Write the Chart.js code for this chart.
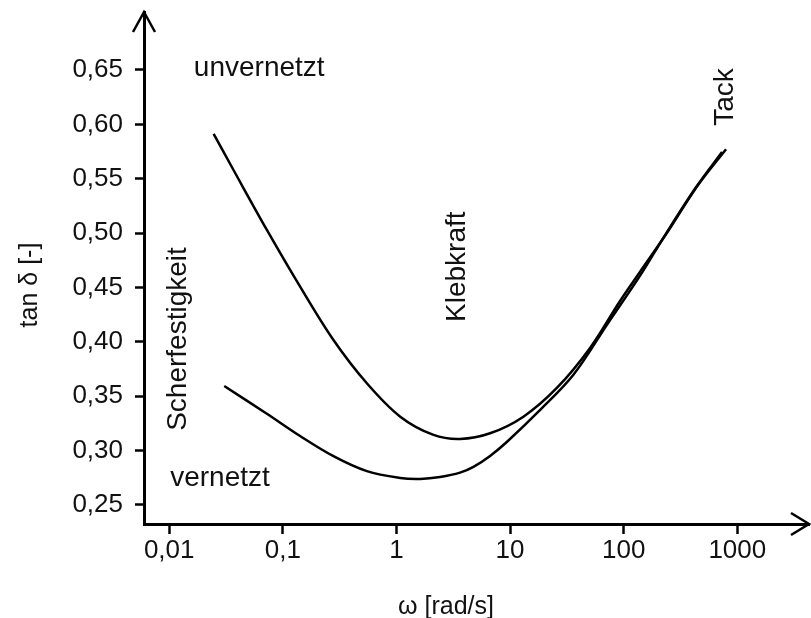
<!DOCTYPE html>
<html>
<head>
<meta charset="utf-8">
<script src="https://cdn.jsdelivr.net/npm/chart.js@4.4.0/dist/chart.umd.min.js"></script>
<style>
    body { margin: 0; background: #fff; }
</style>
</head>
<body>
<canvas id="myChart" width="811" height="618"></canvas>
<script>
// Werte (omega in rad/s, tan delta)
let omegaUnvernetzt = [0.0246, 0.0368, 0.0724, 0.142, 0.279, 0.549, 1.08, 2.12, 3.63, 6.67, 13.1, 25.8, 50.6, 92.9, 139, 239, 439, 796];
let tanUnvernetzt   = [0.5912, 0.558, 0.5029, 0.4507, 0.4017, 0.3619, 0.3312, 0.3144, 0.3107, 0.3159, 0.3312, 0.3576, 0.3944, 0.4376, 0.4643, 0.4998, 0.5424, 0.5771];

let omegaVernetzt = [0.0305, 0.0724, 0.142, 0.279, 0.549, 1.08, 1.62, 2.42, 3.63, 4.76, 6.67, 9.36, 18.4, 36.1, 71.0, 139, 239, 439, 734];
let tanVernetzt   = [0.3594, 0.3339, 0.3134, 0.2949, 0.2811, 0.2748, 0.2739, 0.2757, 0.2797, 0.285, 0.2951, 0.3079, 0.3374, 0.3697, 0.4155, 0.4606, 0.5005, 0.543, 0.5746];

let xTicks = [0.01, 0.1, 1, 10, 100, 1000];
let xTickLabels = ['0,01', '0,1', '1', '10', '100', '1000'];
let yTicks = [0.25, 0.30, 0.35, 0.40, 0.45, 0.50, 0.55, 0.60, 0.65];
let yTickLabels = ['0,25', '0,30', '0,35', '0,40', '0,45', '0,50', '0,55', '0,60', '0,65'];

function punkte(xs, ys) {
    return xs.map(function(x, i) { return { x: x, y: ys[i] }; });
}

// Beschriftungen im Diagramm (Ankerpunkt in Datenkoordinaten)
let notizen = [
    { text: 'unvernetzt', x: 0.062, y: 0.652, rot: 0 },
    { text: 'vernetzt', x: 0.028, y: 0.2748, rot: 0 },
    { text: 'Scherfestigkeit', x: 0.012, y: 0.4026, rot: -90 },
    { text: 'Klebkraft', x: 3.4, y: 0.4691, rot: -90 },
    { text: 'Tack', x: 780, y: 0.6252, rot: -90 }
];

const schrift = "'Liberation Sans', Arial, sans-serif";

const pfeilPlugin = {
    id: 'pfeile',
    afterDraw: function(chart) {
        let ctx = chart.ctx;
        let a = chart.chartArea;
        let xs = chart.scales.x;
        let ys = chart.scales.y;
        ctx.save();
        ctx.strokeStyle = '#000';
        ctx.lineWidth = 2.5;
        // Pfeil y-Achse
        ctx.beginPath();
        ctx.moveTo(a.left - 11, a.top + 20);
        ctx.lineTo(a.left, a.top);
        ctx.lineTo(a.left + 11, a.top + 20);
        ctx.stroke();
        // Pfeil x-Achse
        ctx.beginPath();
        ctx.moveTo(a.right - 18, a.bottom - 11);
        ctx.lineTo(a.right, a.bottom);
        ctx.lineTo(a.right - 18, a.bottom + 11);
        ctx.stroke();

        ctx.fillStyle = '#111';
        ctx.textAlign = 'center';
        ctx.textBaseline = 'middle';
        ctx.font = '28px ' + schrift;
        notizen.forEach(function(n) {
            ctx.save();
            ctx.translate(xs.getPixelForValue(n.x), ys.getPixelForValue(n.y));
            ctx.rotate(n.rot * Math.PI / 180);
            ctx.fillText(n.text, 0, 0);
            ctx.restore();
        });

        // Achsentitel
        ctx.font = '25px ' + schrift;
        ctx.fillText('\u03c9 [rad/s]', 446, 607);
        ctx.save();
        ctx.translate(30, 285);
        ctx.rotate(-Math.PI / 2);
        ctx.fillText('tan \u03b4 [-]', 0, 0);
        ctx.restore();
        ctx.restore();
    }
};

let ctx = document.getElementById('myChart').getContext('2d');
let myChart = new Chart(ctx, {
    type: 'line',
    data: {
        datasets: [{
            label: 'unvernetzt',
            data: punkte(omegaUnvernetzt, tanUnvernetzt),
            borderColor: '#000',
            borderWidth: 2.5,
            pointRadius: 0,
            fill: false,
            tension: 0.35
        }, {
            label: 'vernetzt',
            data: punkte(omegaVernetzt, tanVernetzt),
            borderColor: '#000',
            borderWidth: 2.5,
            pointRadius: 0,
            fill: false,
            tension: 0.35
        }]
    },
    options: {
        responsive: false,
        devicePixelRatio: 1,
        animation: false,
        layout: { padding: { top: 12, right: 2, left: 0, bottom: 0 } },
        plugins: {
            legend: { display: false },
            tooltip: { enabled: false }
        },
        scales: {
            x: {
                type: 'logarithmic',
                min: 0.006,
                max: 4276,
                border: { display: true, color: '#000', width: 3 },
                grid: { display: true, drawOnChartArea: false, drawTicks: true, tickLength: 10, tickColor: '#000', tickWidth: 2.5 },
                ticks: {
                    color: '#111',
                    font: { family: schrift, size: 26 },
                    padding: 1,
                    autoSkip: false,
                    maxRotation: 0,
                    callback: function(value, index) { return xTickLabels[index]; }
                },
                afterBuildTicks: function(scale) {
                    scale.ticks = xTicks.map(function(v) { return { value: v }; });
                },
                afterFit: function(scale) {
                    scale.height = 94;
                    scale.paddingLeft = 0;
                    scale.paddingRight = 0;
                }
            },
            y: {
                type: 'linear',
                min: 0.2325,
                max: 0.7033,
                border: { display: true, color: '#000', width: 3 },
                grid: { display: true, drawOnChartArea: false, drawTicks: true, tickLength: 9, tickColor: '#000', tickWidth: 2.5 },
                ticks: {
                    color: '#111',
                    font: { family: schrift, size: 26 },
                    padding: 12,
                    callback: function(value, index) { return yTickLabels[index]; }
                },
                afterBuildTicks: function(scale) {
                    scale.ticks = yTicks.map(function(v) { return { value: v }; });
                },
                afterFit: function(scale) {
                    scale.width = 144;
                    scale.paddingTop = 0;
                    scale.paddingBottom = 0;
                }
            }
        }
    },
    plugins: [pfeilPlugin]
});
</script>
</body>
</html>
